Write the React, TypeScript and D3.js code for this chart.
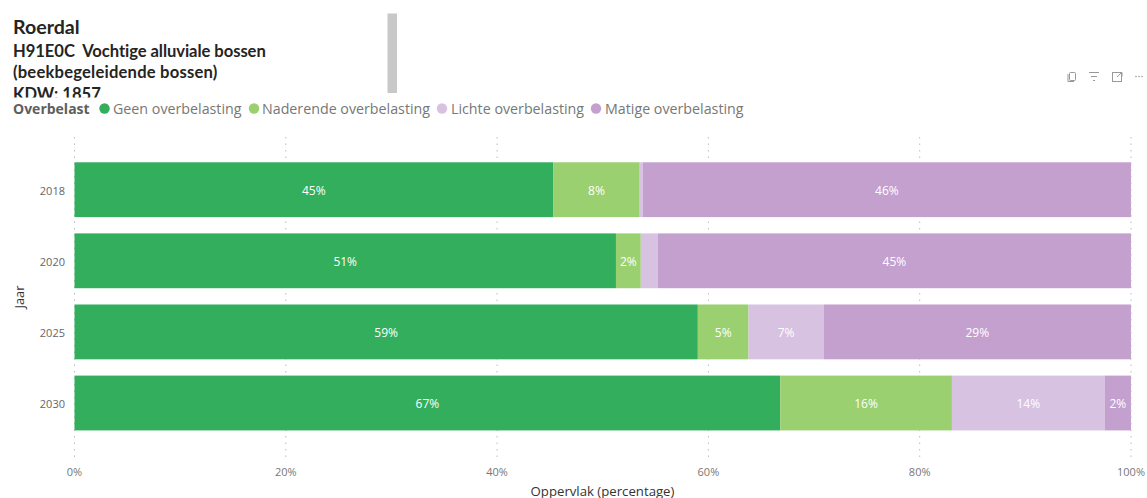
import React from "react";
import * as d3 from "d3";

const years = ["2018", "2020", "2025", "2030"];
const seriesNames = [
  "Geen overbelasting",
  "Naderende overbelasting",
  "Lichte overbelasting",
  "Matige overbelasting",
];
const seriesColors = ["#33ae5c", "#9ad070", "#d8c2e2", "#c4a0cf"];
const geen = [45.3, 51.25, 59.0, 66.8];
const naderend = [8.2, 2.35, 4.8, 16.25];
const licht = [0.3, 1.6, 7.1, 14.45];
const matig = [46.2, 44.8, 29.1, 2.5];
const valueLabels = [
  ["45%", "8%", "", "46%"],
  ["51%", "2%", "", "45%"],
  ["59%", "5%", "7%", "29%"],
  ["67%", "16%", "14%", "2%"],
];
const xTicks = [0, 20, 40, 60, 80, 100];
const titleLines = [
  "H91E0C  Vochtige alluviale bossen",
  "(beekbegeleidende bossen)",
  "KDW: 1857",
];
const titleTracking = [-0.06, 0.2, 0];
const legendDots = [104.5, 254, 442, 596];
const legendTexts = [113, 262, 451, 605];

const UI_FONT = "'Open Sans', 'Noto Sans', sans-serif";
const TITLE_FONT = "Lato, 'Open Sans', sans-serif";

export default function App() {
  const x = d3.scaleLinear().domain([0, 100]).range([74.5, 1131]);
  const y = d3.scaleBand<string>().domain(years).range([154.1, 438.6]).paddingInner(0.229).paddingOuter(0.115);

  const rows = years.map((year, i) => ({
    year,
    s0: geen[i],
    s1: naderend[i],
    s2: licht[i],
    s3: matig[i],
  }));
  const stacked = d3.stack<any>().keys(["s0", "s1", "s2", "s3"])(rows);

  const gridLine = (t: number) => (
    <line
      key={t}
      x1={x(t)}
      x2={x(t)}
      y1={137}
      y2={462}
      stroke="#bdbdbd"
      strokeWidth={1}
      strokeDasharray="1.5 5"
    />
  );

  return (
    <svg
      width={1147}
      height={498}
      viewBox="0 0 1147 498"
      style={{ position: "absolute", left: 0, top: 0, background: "#fff" }}
    >
      <defs>
        <clipPath id="title-clip">
          <rect x={0} y={0} width={380} height={97.5} />
        </clipPath>
      </defs>

      <g clipPath="url(#title-clip)" fill="#252423" fontFamily={TITLE_FONT} fontWeight={700}>
        <text x={13} y={34} fontSize={19.6}>Roerdal</text>
        {titleLines.map((line, i) => (
          <text
            key={line}
            x={13}
            y={56.7 + i * 21.7}
            fontSize={16.6}
            letterSpacing={titleTracking[i]}
            xmlSpace="preserve"
          >
            {line}
          </text>
        ))}
      </g>
      <rect x={387.5} y={13.5} width={9.5} height={79.5} fill="#c8c8c8" />

      <text x={13} y={114} fontFamily={UI_FONT} fontWeight={700} fontSize={14} fill="#605e5c">Overbelast</text>
      {seriesNames.map((name, i) => (
        <g key={name}>
          <circle cx={legendDots[i]} cy={108.5} r={5.2} fill={seriesColors[i]} />
          <text x={legendTexts[i]} y={114} fontFamily={UI_FONT} fontSize={14.25} fill="#777">{name}</text>
        </g>
      ))}

      {/* Interior gridlines run behind the bars; the closing line at 100% sits over them. */}
      {xTicks.filter((t) => t < 100).map(gridLine)}

      {stacked.map((layer, s) => (
        <g key={layer.key}>
          {layer.map((d, i) => {
            const x0 = x(d[0]);
            const x1 = x(d[1]);
            const top = y(years[i]) as number;
            return (
              <g key={years[i]}>
                <rect x={x0} y={top} width={x1 - x0} height={y.bandwidth()} fill={seriesColors[s]} />
                {valueLabels[i][s] && (
                  <text
                    x={(x0 + x1) / 2}
                    y={top + y.bandwidth() / 2 + 5}
                    textAnchor="middle"
                    fontFamily={UI_FONT}
                    fontSize={12}
                    fill="#fff"
                  >
                    {valueLabels[i][s]}
                  </text>
                )}
              </g>
            );
          })}
        </g>
      ))}

      {xTicks.filter((t) => t === 100).map(gridLine)}

      {years.map((year) => (
        <text
          key={year}
          x={65}
          y={(y(year) as number) + y.bandwidth() / 2 + 5}
          textAnchor="end"
          fontFamily={UI_FONT}
          fontSize={11}
          fill="#666"
        >
          {year}
        </text>
      ))}
      {xTicks.map((t) => (
        <text
          key={t}
          x={x(t)}
          y={476}
          textAnchor="middle"
          fontFamily={UI_FONT}
          fontSize={11}
          fill="#777"
        >
          {t}%
        </text>
      ))}

      <text
        transform="translate(24,297) rotate(-90)"
        textAnchor="middle"
        fontFamily={UI_FONT}
        fontSize={12.8}
        fill="#333"
      >
        Jaar
      </text>
      <text x={602.5} y={495.5} textAnchor="middle" fontFamily={UI_FONT} fontSize={13.2} fill="#333">
        Oppervlak (percentage)
      </text>

      <g fill="none" stroke="#999" strokeWidth={1}>
        <rect x={1069.5} y={72.5} width={6} height={8} rx={1} />
        <path d="M1068 74v7.500h6" />
        <path d="M1089 72.500h10M1091 76.500h6M1093 80.500h2" />
        <rect x={1112.5} y={72.5} width={9} height={9} />
        <path d="M1117 77l4-4M1118 72.500h4v4" />
      </g>
      <g fill="#999">
        <circle cx={1136} cy={76.5} r={0.8} />
        <circle cx={1139} cy={76.5} r={0.8} />
        <circle cx={1142} cy={76.5} r={0.8} />
      </g>
    </svg>
  );
}
